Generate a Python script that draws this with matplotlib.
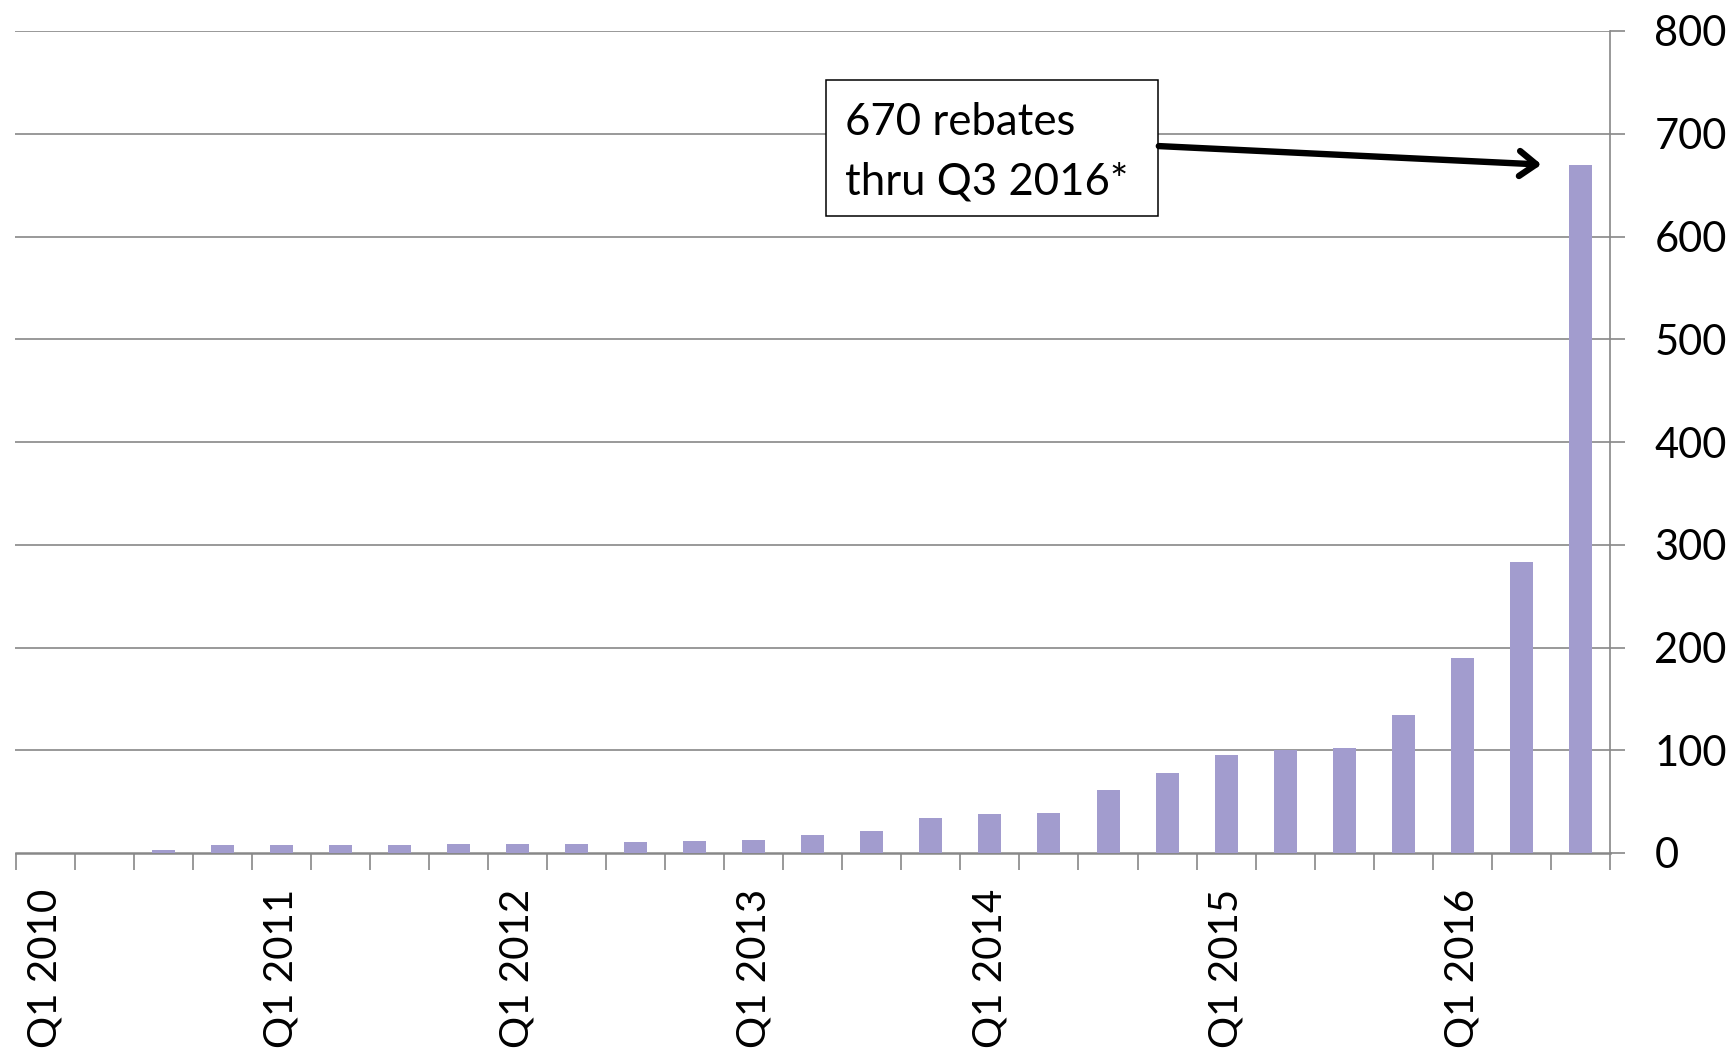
import matplotlib
matplotlib.use("Agg")
import matplotlib.pyplot as plt
from matplotlib.patches import Rectangle
import numpy as np

plt.rcParams['font.family'] = ['Lato', 'DejaVu Sans']

# Quarterly rebates, Q1 2010 through Q3 2016
quarters = [f"Q{q} {y}" for y in range(2010, 2017) for q in range(1, 5)][:27]
rebates = [0, 0, 3, 8, 8, 8, 8, 9, 9, 9, 11, 12, 13, 18, 21,
           34, 38, 39, 61, 78, 95, 100, 102, 134, 190, 283, 670]
tick_labels = [lab if lab.startswith("Q1") else "" for lab in quarters]
yticks = [0, 100, 200, 300, 400, 500, 600, 700, 800]
note = "670 rebates\nthru Q3 2016*"

bar_color = "#A29CCE"
grid_color = "#888888"

W, H = 1733, 1050
fig = plt.figure(figsize=(W / 100, H / 100), dpi=100)
ax = fig.add_axes([15.5 / W, 1 - 853 / H, (1610 - 15.5) / W, (853 - 31) / H])

x = np.arange(len(quarters))
ax.bar(x, rebates, width=0.39, color=bar_color, zorder=3)

ax.set_xlim(-0.5, len(quarters) - 0.5)
ax.set_ylim(0, 800)

# horizontal gridlines
for v in yticks[1:]:
    ax.axhline(v, color=grid_color, lw=1.2, zorder=1)

for s in ["top", "left"]:
    ax.spines[s].set_visible(False)
ax.spines["right"].set_color(grid_color)
ax.spines["right"].set_linewidth(1.2)
ax.spines["bottom"].set_color(grid_color)
ax.spines["bottom"].set_linewidth(1.8)

ax.yaxis.tick_right()
ax.set_yticks(yticks)
ax.set_yticklabels([str(v) for v in yticks])
ax.tick_params(axis="y", length=11, width=1.2, color=grid_color, pad=21,
               labelsize=30, labelcolor="black")

# category boundary ticks, labels centred on each Q1 category
ax.set_xticks(np.arange(len(quarters) + 1) - 0.5, minor=True)
ax.set_xticks(x)
ax.set_xticklabels(tick_labels, rotation=90, ha="center", va="top")
ax.tick_params(axis="x", which="major", length=0, pad=26, labelsize=29)
ax.tick_params(axis="x", which="minor", length=12, width=1.2, color=grid_color)

# callout box with arrow to the latest quarter
ax.add_patch(Rectangle((13.22, 620.3), 5.63, 132.4, facecolor="white",
                       edgecolor="black", lw=1.1, zorder=5))
ax.text(13.55, 682, note, fontsize=31.5, ha="left", va="center",
        linespacing=1.55, zorder=6)
last = len(rebates) - 1
ax.annotate("", xy=(last - 0.66, rebates[-1]), xytext=(18.86, 688),
            arrowprops=dict(arrowstyle="->,head_length=1.2,head_width=0.9",
                            lw=4.6, color="black", shrinkA=0, shrinkB=0),
            zorder=6)

fig.savefig("out.png", dpi=100, facecolor="white")
